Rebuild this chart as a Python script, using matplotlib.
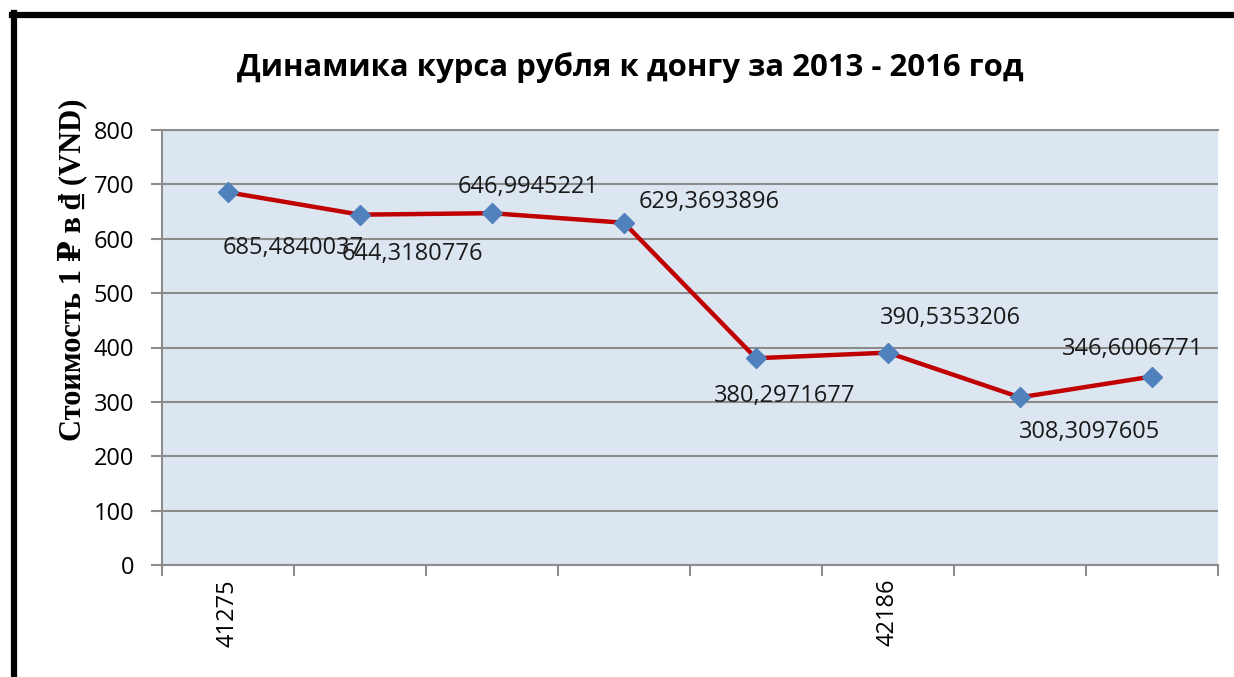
import numpy as np
import matplotlib
matplotlib.use("Agg")
import matplotlib.pyplot as plt
from matplotlib.lines import Line2D

# data (half-year points, Excel date serials as category labels)
categories = ['41275', '', '', '', '', '42186', '', '']
rate = [685.4840037, 644.3180776, 646.9945221, 629.3693896,
        380.2971677, 390.5353206, 308.3097605, 346.6006771]
value_labels = ['685,4840037', '644,3180776', '646,9945221', '629,3693896',
                '380,2971677', '390,5353206', '308,3097605', '346,6006771']
yticks = [0, 100, 200, 300, 400, 500, 600, 700, 800]

# label offsets in points (placement only)
label_offsets = [(47, -40), (38, -28), (26, 19), (61, 15),
                 (21, -27), (45, 25), (50, -25), (-14, 20)]

num_font = 'Open Sans'

fig = plt.figure(figsize=(12.34, 6.77), dpi=100)
W, H = 1234, 677
ax = fig.add_axes([162 / W, 1 - 565 / H, (1218 - 162) / W, 435 / H])
ax.set_facecolor('#DCE6F1')

x = np.arange(len(rate))
ax.plot(x, rate, color='#C00000', lw=3.2, zorder=3)
ax.plot(x, rate, ls='none', marker='D', ms=10, color='#4F81BD', zorder=4)

for xi, yi, txt, off in zip(x, rate, value_labels, label_offsets):
    ax.annotate(txt, (xi, yi), xytext=off, textcoords='offset points',
                ha='center', va='center', fontsize=17, family=num_font,
                color='#1a1a1a', zorder=5)

ax.set_xlim(-0.5, len(rate) - 0.5)
ax.set_ylim(0, 800)
ax.set_yticks(yticks)
ax.set_yticklabels([str(v) for v in yticks], family=num_font, fontsize=17)
ax.yaxis.grid(True, color='#8C8C8C', lw=1.5)
ax.set_axisbelow(True)

# boundary ticks between categories, labels at category centres
ax.set_xticks(np.arange(-0.5, len(rate), 1.0))
ax.set_xticklabels([])
ax.set_xticks(x, minor=True)
ax.set_xticklabels(categories, minor=True, rotation=90, family=num_font,
                   fontsize=17, va='top')
ax.tick_params(axis='x', which='major', length=8, width=1.5, color='#8C8C8C')
ax.tick_params(axis='x', which='minor', length=0, pad=10)
ax.tick_params(axis='y', length=8, width=1.5, color='#8C8C8C', pad=12)

for s in ['top', 'right']:
    ax.spines[s].set_visible(False)
for s in ['left', 'bottom']:
    ax.spines[s].set_color('#8C8C8C')
    ax.spines[s].set_linewidth(1.5)
ax.axhline(800, color='#8C8C8C', lw=1.5, clip_on=False)

fig.text(630 / W, 1 - 68 / H, 'Динамика курса рубля к донгу за 2013 - 2016 год',
         ha='center', va='center', fontsize=22.4, fontweight='bold', family='Open Sans')
fig.text(72 / W, 1 - 270 / H, 'Стоимость 1 ₽ в ₫ (VND)', rotation=90,
         ha='center', va='center', fontsize=22, fontweight='bold',
         family=['Liberation Serif', 'DejaVu Serif'])

# thick frame (top and left edges visible in the source)
fig.add_artist(Line2D([12 / W, 1], [1 - 15 / H, 1 - 15 / H], color='black', lw=4.5,
                      transform=fig.transFigure))
fig.add_artist(Line2D([13.5 / W, 13.5 / W], [0, 1 - 13 / H], color='black', lw=4.5,
                      transform=fig.transFigure))

fig.savefig('out.png', dpi=100)
